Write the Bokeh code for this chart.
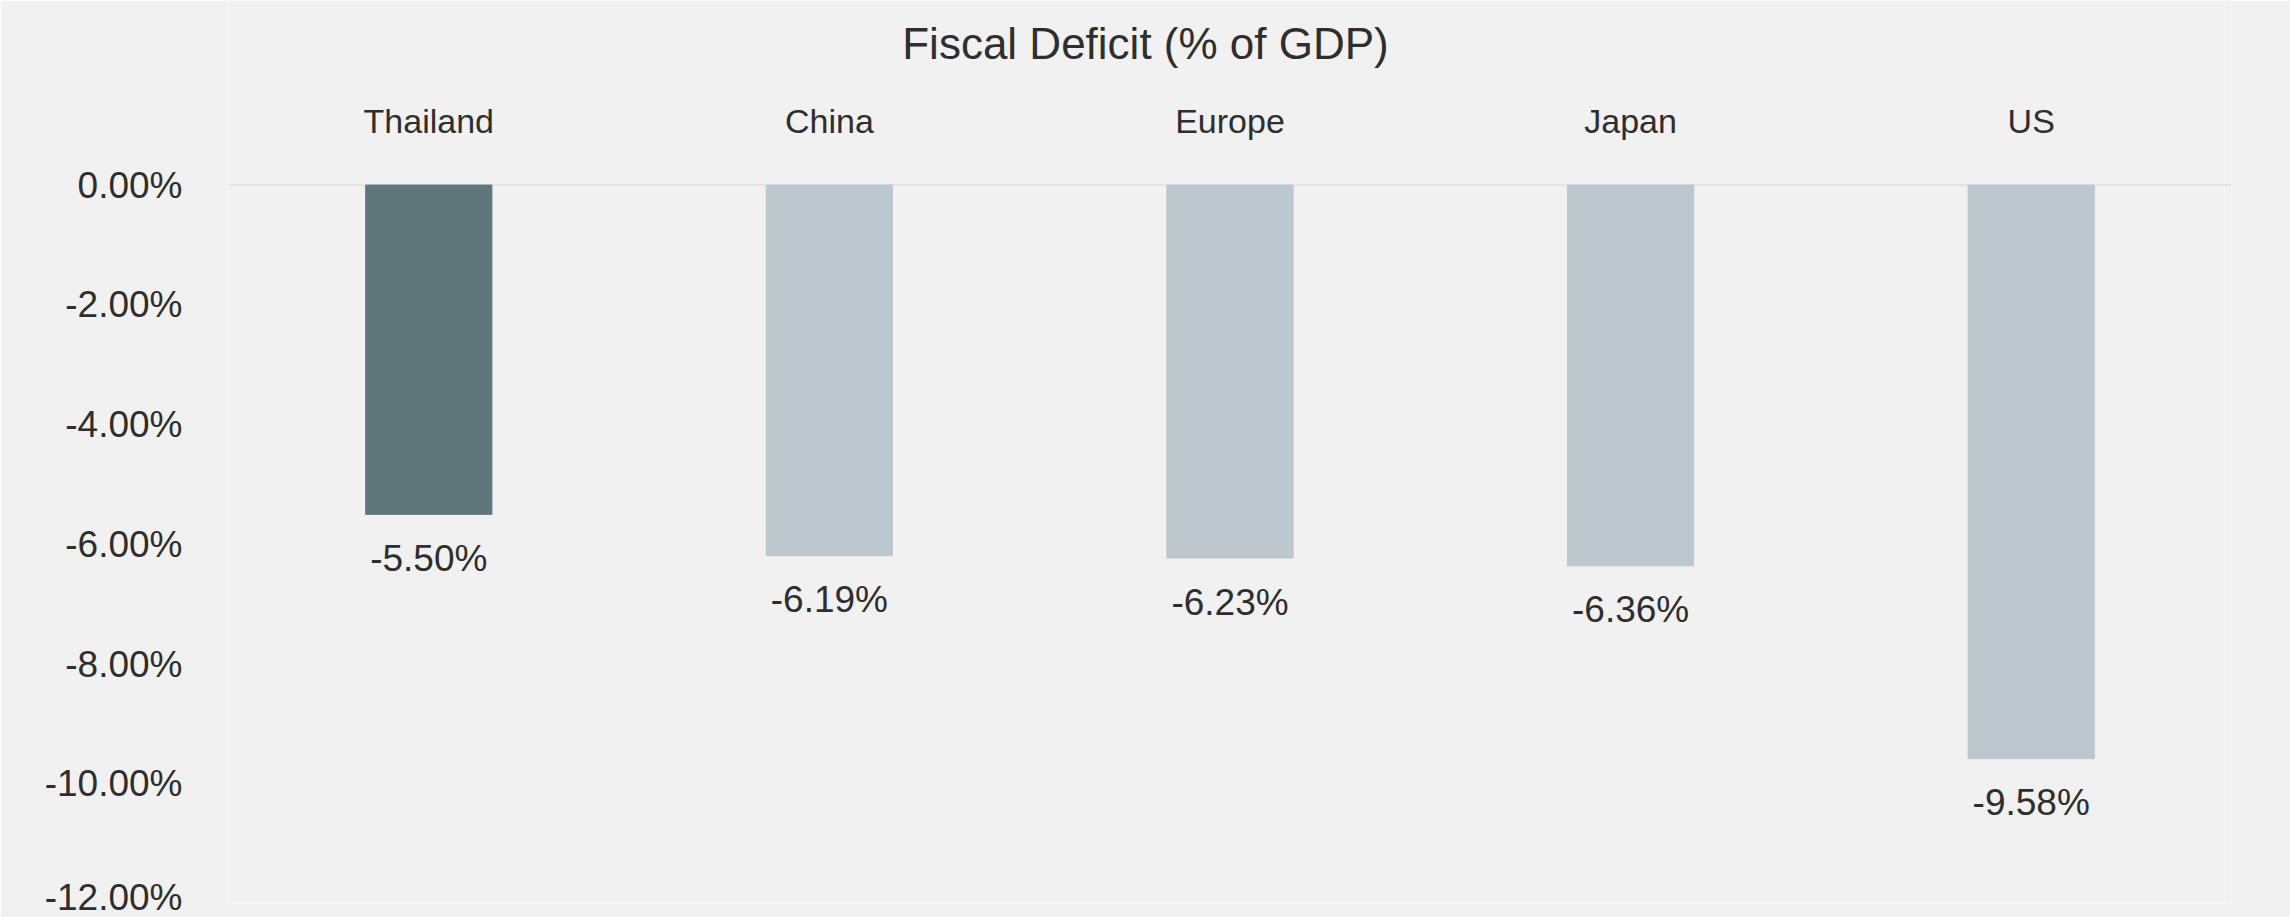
from bokeh.plotting import figure
from bokeh.models import (ColumnDataSource, FixedTicker, CustomJSTickFormatter, Range1d,
                          FactorRange, Label, Span)
from bokeh.embed import file_html
from bokeh.resources import INLINE
from bokeh.core.properties import value

# ---- data ----
countries = ["Thailand", "China", "Europe", "Japan", "US"]
deficits = [-5.50, -6.19, -6.23, -6.36, -9.58]
bar_colors = ["#5f777a", "#bcc8cd", "#bcc8cd", "#bcc8cd", "#bcc8cd"]
value_labels = ["-5.50%", "-6.19%", "-6.23%", "-6.36%", "-9.58%"]
y_ticks = [0, -2, -4, -6, -8, -10, -12]
title_text = "Fiscal Deficit (% of GDP)"

BG = "#f1f1f1"
TXT = "#2e2e2e"
FONT = "Liberation Sans"
W, H = 2290, 917
LEFT, RIGHT, BOTTOM = 228, 59, 14

src = ColumnDataSource(dict(country=countries, deficit=deficits,
                            color=bar_colors, label=value_labels))

# the frame reaches the top of the canvas; the space above 0 holds the
# category labels and the title
p = figure(width=W, height=H, output_backend="svg", toolbar_location=None,
           x_range=FactorRange(*countries), y_range=Range1d(-12, 3.083),
           min_border_left=LEFT, min_border_right=RIGHT, min_border_bottom=BOTTOM,
           min_border_top=0)

p.background_fill_color = BG
p.border_fill_color = BG
p.outline_line_color = None
p.xgrid.visible = False
p.ygrid.visible = False
p.xaxis.visible = False

# zero line
p.add_layout(Span(location=0, dimension="width", line_color="#e4e4e4",
                  line_width=2, level="underlay"))

p.vbar(x="country", top="deficit", bottom=0, width=0.315, color="color", source=src)

# value labels under each bar
p.text(x="country", y="deficit", text="label", source=src,
       text_align="center", text_baseline="alphabetic", y_offset=44,
       text_font=value(FONT), text_font_size="37px", text_color=TXT)

# category labels above the zero line
p.text(x="country", y=0, text="country", source=src,
       text_align="center", text_baseline="alphabetic", y_offset=-64,
       text_font=value(FONT), text_font_size="34px", text_color=TXT)

# chart title, centred on the whole canvas (screen units from frame left / bottom)
frame_h = H - BOTTOM
p.add_layout(Label(x=W / 2 - LEFT, y=frame_h - 43, x_units="screen", y_units="screen",
                   text=title_text, text_align="center", text_baseline="alphabetic",
                   text_font=FONT, text_font_size="44px", text_color=TXT))

ya = p.yaxis[0]
ya.ticker = FixedTicker(ticks=y_ticks)
ya.formatter = CustomJSTickFormatter(code="return tick.toFixed(2) + '%';")
ya.axis_line_color = None
ya.major_tick_line_color = None
ya.minor_tick_line_color = None
ya.major_label_text_font = FONT
ya.major_label_text_font_size = "37px"
ya.major_label_text_color = TXT
ya.major_label_standoff = 40

open("out.html", "w").write(file_html(p, INLINE))
